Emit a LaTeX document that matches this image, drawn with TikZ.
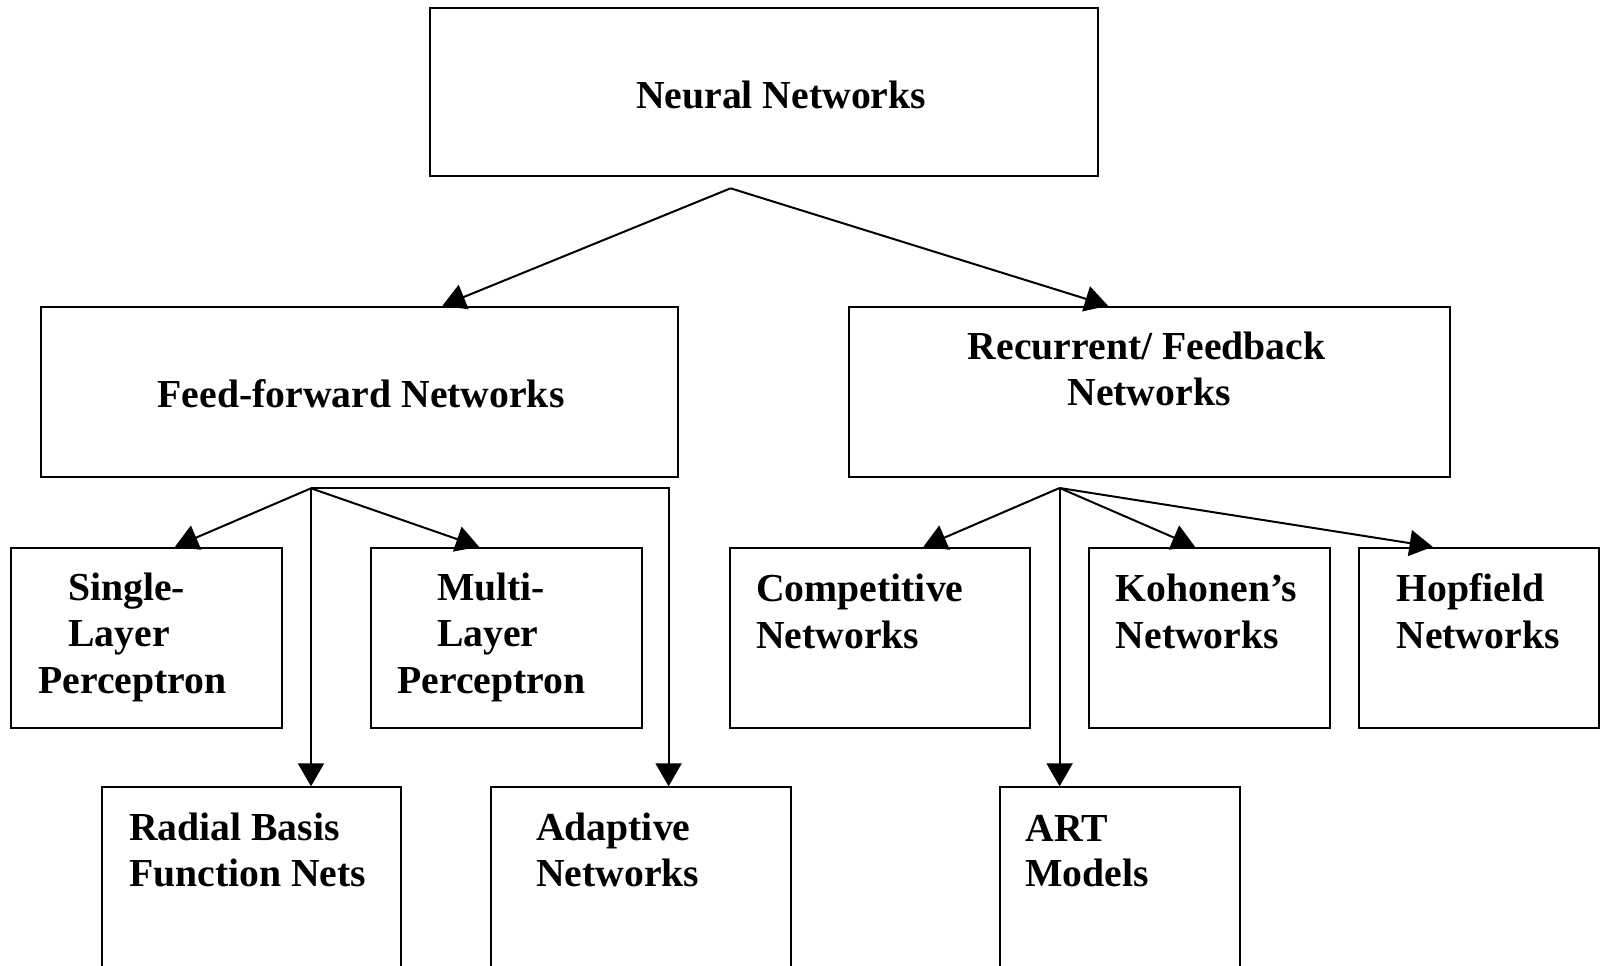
\documentclass[tikz,border=0pt]{standalone}
\usepackage{fontspec}
\setmainfont{Liberation Serif}
\usetikzlibrary{arrows.meta,calc,fit}

\tikzset{
  box/.style={draw, line width=1pt, inner sep=0pt, rectangle},
  lbl/.style={anchor=base west, inner sep=0pt, font=\fontsize{19.85}{23.3}\selectfont\bfseries},
  link/.style={line width=1pt, -{Triangle[length=11.5pt,width=13pt]}},
}

\begin{document}
\begin{tikzpicture}[x=0.5pt, y=-0.5pt]
\useasboundingbox (0,0) rectangle (1602,965);
\clip (0,0) rectangle (1602,965);
\fill[white] (0,0) rectangle (1602,965);

% boxes
\node[box, fit={(429.6,8.3) (1098,176)}] (nn) {};
\node[box, fit={(41,306.7) (678,477)}] (ff) {};
\node[box, fit={(849,306.7) (1449.7,477)}] (rec) {};
\node[box, fit={(11.2,547.7) (282,728.3)}] (slp) {};
\node[box, fit={(370.5,547.7) (642,728.3)}] (mlp) {};
\node[box, fit={(101.8,787.3) (401,980)}] (rbf) {};
\node[box, fit={(491,787.3) (791,980)}] (ada) {};
\node[box, fit={(730,547.7) (1029.7,728.3)}] (comp) {};
\node[box, fit={(1089,547.7) (1330,728.3)}] (koh) {};
\node[box, fit={(1358.8,547.7) (1599,728.3)}] (hop) {};
\node[box, fit={(1000.3,787.3) (1239.7,980)}] (art) {};

% labels
\node[lbl] (nnA) at (635.7,108.3) {Neural Networks};
\node[lbl] (ffA) at (157.3,407.3) {Feed-forward Networks};
\node[lbl] (recA) at (967.5,359) {Recurrent/ Feedback};
\node[lbl] (recB) at (1067,405.5) {Networks};
\node[lbl] (slpA) at (67.9,600) {Single-};
\node[lbl] (slpB) at (67.9,646.7) {Layer};
\node[lbl] (slpC) at (38,693) {Perceptron};
\node[lbl] (mlpA) at (436.6,600) {Multi-};
\node[lbl] (mlpB) at (436.6,646.7) {Layer};
\node[lbl] (mlpC) at (397,693) {Perceptron};
\node[lbl] (rbfA) at (128.6,840) {Radial Basis};
\node[lbl] (rbfB) at (128.6,886.7) {Function Nets};
\node[lbl] (adaA) at (535.7,840) {Adaptive};
\node[lbl] (adaB) at (535.7,886.7) {Networks};
\node[lbl] (compA) at (755.8,601.7) {Competitive};
\node[lbl] (compB) at (755.8,648) {Networks};
\node[lbl] (kohA) at (1115.4,601.7) {Kohonen’s};
\node[lbl] (kohB) at (1115.4,648) {Networks};
\node[lbl] (hopA) at (1396,601.7) {Hopfield};
\node[lbl] (hopB) at (1396,648) {Networks};
\node[lbl] (artA) at (1025,841.7) {ART};
\node[lbl] (artB) at (1025,886.7) {Models};

% branching points
\coordinate (nnout) at (730.6,188.3);
\coordinate (ffout) at (311,488.3);
\coordinate (recout) at (1059.6,488);

% connectors
\draw[link] (nnout) -- ($(ff.north west)+(402.4,0)$);
\draw[link] (nnout) -- ($(rec.north west)+(260,0)$);

\draw[link] (ffout) -- ($(slp.north west)+(164.8,0)$);
\draw[link] (ffout) -- ($(mlp.north west)+(109.5,0)$);
\draw[link] (ffout) -- (ffout |- rbf.north);
\draw[link] (ffout) -| ($(ada.north west)+(178.6,0)$);

\draw[link] (recout) -- ($(comp.north west)+(194.4,0)$);
\draw[link] (recout) -- ($(koh.north west)+(107,0)$);
\draw[link] (recout) -- ($(hop.north west)+(74.8,0)$);
\draw[link] (recout) -- (recout |- art.north);
\end{tikzpicture}
\end{document}
